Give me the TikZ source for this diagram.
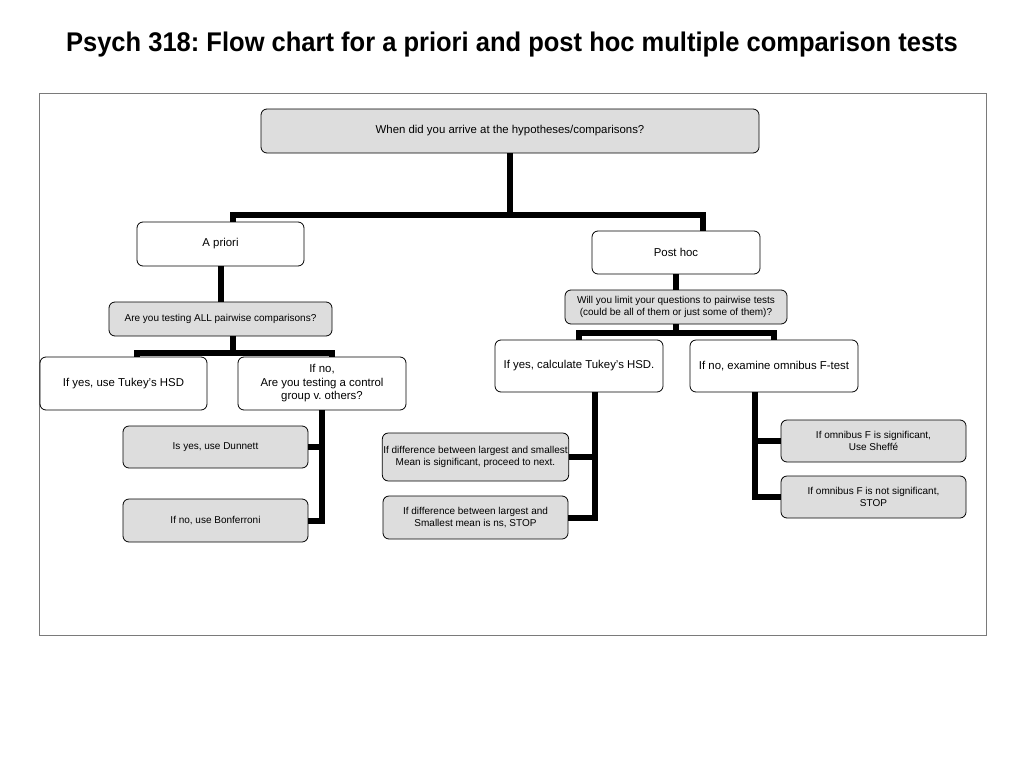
\documentclass[tikz,border=0pt]{standalone}
\usepackage{fontspec}
\setmainfont{Liberation Sans}
\usetikzlibrary{positioning}
\definecolor{cfill}{HTML}{DDDDDD}
\definecolor{cframe}{HTML}{7A7A7A}
\tikzset{
  every picture/.style={line width=0.8pt},
  box/.style={draw=black, fill=#1, rounded corners=6pt, align=center, inner sep=1pt, font=\fontsize{11.4}{13.5}\selectfont},
  box/.default=white,
  small/.style={font=\fontsize{10}{12.5}\selectfont},
  link/.style={draw=black, line width=6pt},
  frame/.style={draw=cframe, line width=1pt},
  title/.style={font=\bfseries\fontsize{27}{30}\selectfont},
}

\begin{document}
\frenchspacing
\begin{tikzpicture}[x=1pt, y=-1pt]
  \useasboundingbox (0,0) rectangle (1024,768);
  \node[title] (head) at (512,45) {\scalebox{0.945}[1]{Psych 318: Flow chart for a priori and post hoc multiple comparison tests}};
  \draw[frame] (39,93) rectangle (986,635);
  % top question
  \node[box=cfill, minimum width=498pt, minimum height=44pt] (when) at (510,131) {When did you arrive at the hypotheses/comparisons?};
  % a priori branch
  \node[box, minimum width=167pt, minimum height=44pt] (apriori) at (220.5,244) {A priori};
  \node[box=cfill, small, minimum width=223pt, minimum height=34pt] (allq) at (220.5,319) {Are you testing ALL pairwise comparisons?};
  \node[box, minimum width=167pt, minimum height=53pt] (tukeyA) at (123.5,383.5) {If yes, use Tukey's HSD};
  \node[box, minimum width=168pt, minimum height=53pt] (control) at (322,383.5) {If no,\\Are you testing a control\\group v. others?};
  \node[box=cfill, small, minimum width=185pt, minimum height=42pt] (dunnett) at (215.5,447) {Is yes, use Dunnett};
  \node[box=cfill, small, minimum width=185pt, minimum height=43pt] (bonf) at (215.5,520.5) {If no, use Bonferroni};
  % post hoc branch
  \node[box, minimum width=168pt, minimum height=43pt] (posthoc) at (676,252.5) {Post hoc};
  \node[box=cfill, small, minimum width=222pt, minimum height=34pt] (limitq) at (676,307) {Will you limit your questions to pairwise tests\\(could be all of them or just some of them)?};
  \node[box, minimum width=168pt, minimum height=52pt] (tukeyB) at (579,366) {If yes, calculate Tukey's HSD.};
  \node[box, minimum width=168pt, minimum height=52pt] (omnibus) at (774,366) {If no, examine omnibus F-test};
  \node[box=cfill, small, minimum width=185pt, minimum height=48pt] (diffsig) at (475.5,457) {If difference between largest and smallest\\Mean is significant, proceed to next.};
  \node[box=cfill, small, minimum width=185pt, minimum height=43pt] (diffns) at (475.5,517.5) {If difference between largest and\\Smallest mean is ns, STOP};
  \node[box=cfill, small, minimum width=185pt, minimum height=42pt] (sheffe) at (873.5,441) {If omnibus F is significant,\\Use Sheff\'e};
  \node[box=cfill, small, minimum width=185pt, minimum height=42pt] (fstop) at (873.5,497) {If omnibus F is not significant,\\STOP};
  % connectors
  \coordinate (j1) at (510,215);
  \draw[link] (when.south) -- (j1);
  \draw[link] ([xshift=12.5pt]apriori.north) |- (j1) -| ([xshift=27pt]posthoc.north);
  \draw[link] (apriori) -- (allq);
  \coordinate (j2) at (233,353);
  \draw[link] ([xshift=12.5pt]allq.south) -- (j2);
  \draw[link] ([xshift=13.5pt]tukeyA.north) |- (j2) -| ([xshift=10pt]control.north);
  \draw[link] (control.south) |- (bonf.east);
  \draw[link] (dunnett.east) -- (dunnett.east -| control.south);
  \draw[link] (posthoc) -- (limitq);
  \coordinate (j3) at (676,333);
  \draw[link] (limitq.south) -- (j3);
  \draw[link] (tukeyB.north) |- (j3) -| (omnibus.north);
  \coordinate (v1) at ([xshift=16pt]tukeyB.south);
  \draw[link] (v1) |- (diffns.east);
  \draw[link] (diffsig.east) -- (diffsig.east -| v1);
  \coordinate (v2) at ([xshift=-19pt]omnibus.south);
  \draw[link] (v2) |- (fstop.west);
  \draw[link] (sheffe.west) -- (sheffe.west -| v2);
\end{tikzpicture}
\end{document}
